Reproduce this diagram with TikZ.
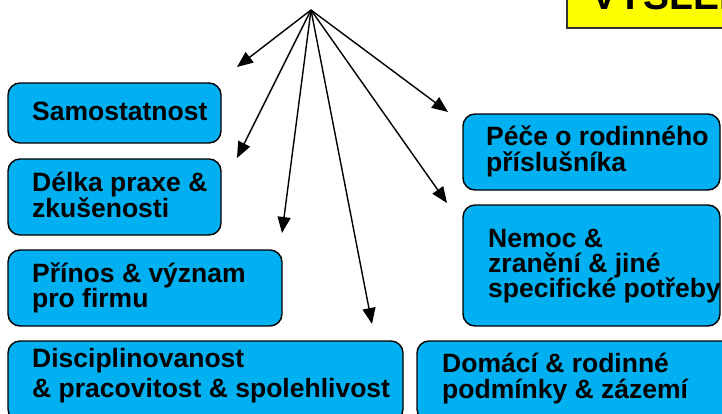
\documentclass[tikz,border=0pt]{standalone}
\usepackage{fontspec}
\setmainfont{Liberation Sans}
\usetikzlibrary{arrows.meta}
\definecolor{boxblue}{RGB}{0,176,240}
\definecolor{boxyellow}{RGB}{255,255,0}
\tikzset{
  box/.style={draw=black, line width=1.4pt, fill=boxblue, rounded corners=12pt, inner sep=0pt, rectangle},
  ybox/.style={draw=black!80, line width=2pt, fill=boxyellow, inner sep=0pt, rectangle},
  txt/.style={anchor=base west, inner sep=0pt, font=\fontsize{26.5}{27}\selectfont\bfseries},
  bigtxt/.style={anchor=base west, inner sep=0pt, font=\fontsize{39}{40}\selectfont\bfseries},
  arr/.style={line width=1.4pt, -{Triangle[length=16pt,width=13pt]}}
}
\begin{document}
\begin{tikzpicture}[x=1pt,y=-1pt]
\useasboundingbox (0,0) rectangle (722,413);
\clip (0,0) rectangle (722,413);
\fill[white] (0,0) rectangle (722,413);

% yellow title box (cut off)
\node[ybox, minimum width=180pt, minimum height=60pt] (title) at (657,-2) {};
\node[bigtxt] (titletxt) at (591,9) {VÝSLEDKY};

% boxes
\node[box, minimum width=213pt, minimum height=60pt] (samo) at (114.5,113) {};
\node[box, minimum width=213pt, minimum height=76pt] (delka) at (114.5,197) {};
\node[box, minimum width=274pt, minimum height=76pt] (prinos) at (145,288) {};
\node[box, minimum width=395pt, minimum height=80pt] (disc) at (205.5,381) {};
\node[box, minimum width=257pt, minimum height=76pt] (pece) at (591.5,152) {};
\node[box, minimum width=257pt, minimum height=121pt] (nemoc) at (591.5,265.5) {};
\node[box, minimum width=318pt, minimum height=80pt] (domaci) at (576,381) {};

% texts
\node[txt] (t1) at (32,120) {Samostatnost};
\node[txt] (t2a) at (32,191) {Délka praxe \&};
\node[txt] (t2b) at (32,217) {zkušenosti};
\node[txt] (t3a) at (32,282) {Přínos \& význam};
\node[txt] (t3b) at (32,307) {pro firmu};
\node[txt] (t4a) at (32,367) {Disciplinovanost};
\node[txt] (t4b) at (32,397) {\& pracovitost \& spolehlivost};
\node[txt] (t5a) at (486,145) {Péče o rodinného};
\node[txt] (t5b) at (486,171) {příslušníka};
\node[txt] (t6a) at (488,247) {Nemoc \&};
\node[txt] (t6b) at (488,272) {zranění \& jiné};
\node[txt] (t6c) at (488,297) {specifické potřeby};
\node[txt] (t7a) at (442,372) {Domácí \& rodinné};
\node[txt] (t7b) at (442,398) {podmínky \& zázemí};

% arrows
\coordinate (src) at (311,10);
\coordinate (e1) at (237,67);
\coordinate (e2) at (237,158);
\coordinate (e3) at (282,233);
\coordinate (e4) at (372,324);
\coordinate (e5) at (448,112);
\coordinate (e6) at (447,203);
\foreach \e in {e1,e2,e3,e4,e5,e6} {
  \draw[arr] (src) -- (\e);
}
\end{tikzpicture}
\end{document}
